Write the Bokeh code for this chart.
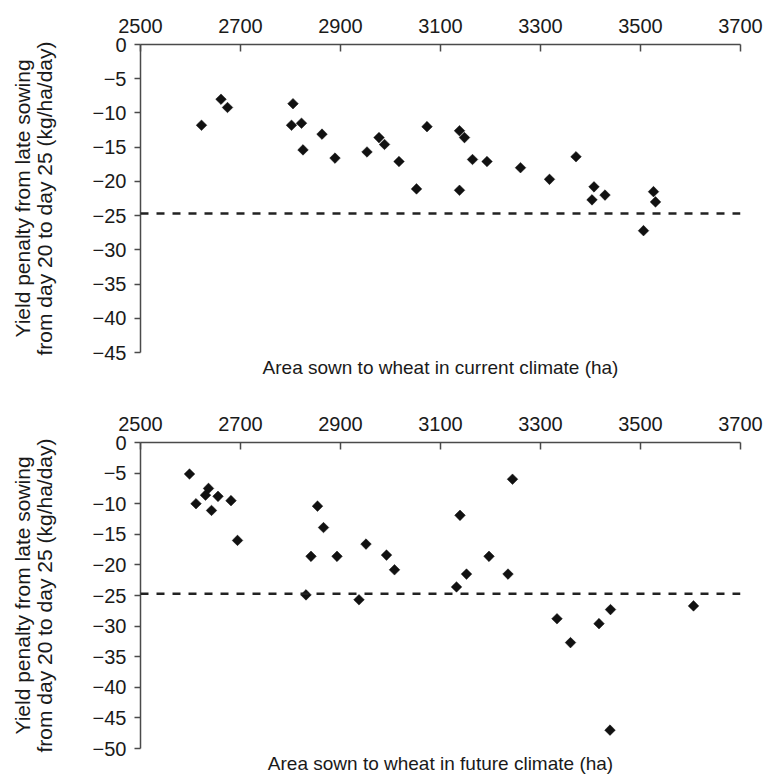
import math
from bokeh.plotting import figure
from bokeh.models import FixedTicker, Span, Title, Range1d
from bokeh.layouts import column
from bokeh.embed import file_html
from bokeh.resources import INLINE

# ---------------- data ----------------
x_ticks = [2500, 2700, 2900, 3100, 3300, 3500, 3700]
x_tick_labels = ["2500", "2700", "2900", "3100", "3300", "3500", "3700"]

y_ticks_current = [0, -5, -10, -15, -20, -25, -30, -35, -40, -45]
y_labels_current = ["0", "\u22125", "\u221210", "\u221215", "\u221220", "\u221225",
                    "\u221230", "\u221235", "\u221240", "\u221245"]
y_ticks_future = [0, -5, -10, -15, -20, -25, -30, -35, -40, -45, -50]
y_labels_future = ["0", "\u22125", "\u221210", "\u221215", "\u221220", "\u221225",
                   "\u221230", "\u221235", "\u221240", "\u221245", "\u221250"]

threshold = -24.7

current_area = [2622, 2661, 2674, 2802, 2805, 2822, 2825, 2863, 2889, 2953,
                2977, 2988, 3017, 3052, 3073, 3138, 3148, 3138, 3164, 3193,
                3260, 3318, 3371, 3403, 3407, 3429, 3506, 3526, 3530]
current_penalty = [-11.8, -8.0, -9.2, -11.8, -8.65, -11.5, -15.4, -13.1, -16.6, -15.7,
                   -13.6, -14.6, -17.1, -21.1, -12.0, -12.6, -13.6, -21.3, -16.8, -17.1,
                   -18.0, -19.7, -16.4, -22.7, -20.8, -22.0, -27.2, -21.5, -23.0]

future_area = [2598, 2611, 2630, 2636, 2642, 2655, 2681, 2694, 2831, 2841,
               2854, 2866, 2893, 2937, 2951, 2992, 3008, 3132, 3139, 3152,
               3197, 3235, 3244, 3333, 3360, 3417, 3439, 3440, 3606]
future_penalty = [-5.15, -10.0, -8.6, -7.5, -11.1, -8.8, -9.5, -16.0, -24.9, -18.6,
                  -10.4, -13.9, -18.6, -25.7, -16.6, -18.4, -20.8, -23.6, -11.9, -21.5,
                  -18.6, -21.5, -6.0, -28.8, -32.7, -29.6, -47.0, -27.3, -26.7]

y_title = "Yield penalty from late sowing\nfrom day 20 to day 25 (kg/ha/day)"
x_title_current = "Area sown to wheat in current climate (ha)"
x_title_future = "Area sown to wheat in future climate (ha)"

FONT = "Liberation Sans"
AXIS_COLOR = "#4a4a4a"
TEXT_COLOR = "#1a1a1a"


def make_panel(area, penalty, yticks, ylabels, xtitle, height, top, bottom):
    p = figure(width=764, height=height,
               x_range=Range1d(2500, 3700), y_range=Range1d(yticks[-1], 0),
               x_axis_location="above", output_backend="svg",
               toolbar_location=None,
               min_border_left=140, min_border_right=24,
               min_border_top=top, min_border_bottom=bottom)
    p.outline_line_color = None
    p.grid.visible = False
    p.background_fill_color = "white"
    p.border_fill_color = "white"

    xa = p.xaxis[0]
    xa.ticker = FixedTicker(ticks=x_ticks)
    xa.major_label_overrides = {t: l for t, l in zip(x_ticks, x_tick_labels)}
    xa.minor_tick_line_color = None
    xa.major_tick_in = 7
    xa.major_tick_out = 0
    xa.major_label_standoff = 12
    xa.axis_line_color = AXIS_COLOR
    xa.axis_line_width = 1.5
    xa.major_tick_line_color = AXIS_COLOR
    xa.major_tick_line_width = 1.5
    xa.major_label_text_font = FONT
    xa.major_label_text_font_size = "20px"
    xa.major_label_text_color = TEXT_COLOR

    ya = p.yaxis[0]
    ya.ticker = FixedTicker(ticks=yticks)
    ya.major_label_overrides = {t: l for t, l in zip(yticks, ylabels)}
    ya.minor_tick_line_color = None
    ya.major_tick_in = 0
    ya.major_tick_out = 6
    ya.major_label_standoff = 8
    ya.axis_line_color = AXIS_COLOR
    ya.axis_line_width = 1.5
    ya.major_tick_line_color = AXIS_COLOR
    ya.major_tick_line_width = 1.5
    ya.major_label_text_font = FONT
    ya.major_label_text_font_size = "20px"
    ya.major_label_text_color = TEXT_COLOR
    ya.axis_label = y_title
    ya.axis_label_text_font = FONT
    ya.axis_label_text_font_size = "21px"
    ya.axis_label_text_font_style = "normal"
    ya.axis_label_text_color = TEXT_COLOR
    ya.axis_label_standoff = 34
    ya.axis_label_text_line_height = 0.95

    p.add_layout(Span(location=threshold, dimension="width",
                      line_color="#222222", line_width=2.5, line_dash="8 8"))

    p.scatter(area, penalty, marker="square", size=7.5, angle=math.pi / 4,
              fill_color="#111111", line_color="#111111", line_width=0.5)

    p.add_layout(Title(text=xtitle, align="center", offset=-21,
                       text_font=FONT, text_font_size="19px",
                       text_font_style="normal", text_color=TEXT_COLOR,
                       standoff=4), "below")
    return p


p1 = make_panel(current_area, current_penalty, y_ticks_current, y_labels_current,
                x_title_current, 394, 44, 42)
p2 = make_panel(future_area, future_penalty, y_ticks_future, y_labels_future,
                x_title_future, 381, 48, 25)

layout = column(p1, p2, spacing=0)
open("out.html", "w").write(file_html(layout, INLINE))
